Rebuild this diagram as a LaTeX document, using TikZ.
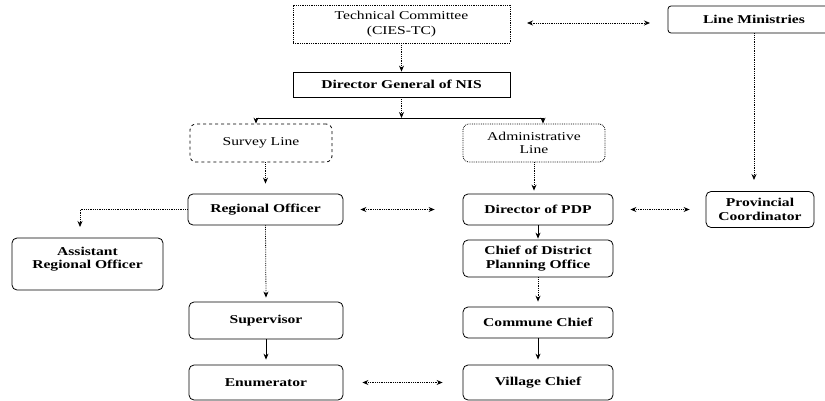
\documentclass[tikz,border=0pt]{standalone}
\usepackage{fontspec}
\setmainfont{Liberation Serif}[FakeStretch=1.3]
\usetikzlibrary{arrows.meta}
\begin{document}
\begin{tikzpicture}[x=1pt,y=-1pt,
  tip/.tip={Stealth[length=6pt,width=5pt]},
  box/.style={draw,line width=0.8pt,rounded corners=5pt,inner sep=0pt,align=center,
    font=\bfseries\fontsize{12}{13.5}\selectfont},
  sqbox/.style={draw,line width=0.8pt,inner sep=0pt,align=center},
  linebox/.style={draw,dashed,line width=0.8pt,rounded corners=6pt,inner sep=0pt,align=center,
    font=\fontsize{12}{13.5}\selectfont},
  conn/.style={densely dotted,line width=0.8pt,-tip},
  connsolid/.style={line width=0.8pt,-tip},
  twoway/.style={densely dotted,line width=0.8pt,tip-tip},
  plain/.style={line width=0.8pt}]
\useasboundingbox (0,0) rectangle (825,401);
\clip (0,0) rectangle (825,401);

% top level
\node[sqbox,densely dotted,minimum width=217pt,minimum height=38pt,
  font=\fontsize{12}{15}\selectfont] (tc) at (401.5,24) {Technical Committee\\(CIES-TC)};
\node[sqbox,minimum width=217pt,minimum height=25pt,
  font=\bfseries\fontsize{12}{13.5}\selectfont] (dg) at (401.5,84.5) {Director General of NIS};
\node[box,rounded corners=3pt,minimum width=172pt,minimum height=27pt] (lm) at (754,19.5) {Line Ministries};

% the two lines
\node[linebox,minimum width=142pt,minimum height=38pt] (sl) at (261,143) {Survey Line};
\node[linebox,densely dotted,minimum width=142pt,minimum height=38pt] (al) at (534,143) {Administrative\\Line};

% survey side
\node[box,minimum width=155pt,minimum height=31pt] (ro) at (265.5,209.5) {Regional Officer};
\node[box,minimum width=151pt,minimum height=52pt] (aro) at (87.5,264) {};
\node[font=\bfseries\fontsize{12}{13.5}\selectfont,align=center,inner sep=0pt] (arot) at (87.5,259) {Assistant\\Regional Officer};
\node[box,minimum width=154pt,minimum height=37pt] (sup) at (266,320.5) {Supervisor};
\node[box,minimum width=154pt,minimum height=35pt] (en) at (266,382.5) {Enumerator};

% administrative side
\node[box,minimum width=150pt,minimum height=31pt] (pdp) at (538,209.5) {Director of PDP};
\node[box,minimum width=108pt,minimum height=36pt] (pc) at (760,209.5) {Provincial\\Coordinator};
\node[box,minimum width=150pt,minimum height=37pt] (cdp) at (538,258.5) {Chief of District\\Planning Office};
\node[box,minimum width=150pt,minimum height=31pt] (cc) at (538,322.5) {Commune Chief};
\node[box,minimum width=150pt,minimum height=35pt] (vc) at (538,382.5) {Village Chief};

% branching below the Director General
\coordinate (jm) at (401.5,118);
\coordinate (jl) at (256,118);
\coordinate (jr) at (543,118);
\coordinate (tcr) at (527,23);
\coordinate (lml) at (650,23);
\coordinate (pcin) at (754,180);
\coordinate (aroin) at (80,227);

\draw[conn] (tc) -- (dg);
\draw[twoway] (tcr) -- (lml);
\draw[conn] (dg.south) -- (jm);
\draw[plain] (jl) -- (jr);
\draw[conn] (jl) -- (jl |- sl.north);
\draw[conn] (jr) -- (jr |- al.north);
\draw[conn] (lm.south) -- (pcin);

\draw[conn] (sl.south -| ro.north) -- ([yshift=10pt]ro.north);
\draw[conn] (ro.west) -| (aroin);
\draw[conn] (ro.south) -- ([yshift=4pt]sup.north);
\draw[connsolid] (sup.south) -- ([yshift=5pt]en.north);

\draw[conn] (al.south) -- ([yshift=3pt]al.south |- pdp.north);
\draw[connsolid] (pdp.south) -- ([yshift=1pt]cdp.north);
\draw[conn] (cdp.south) -- ([yshift=5pt]cc.north);
\draw[connsolid] (cc.south) -- ([yshift=5pt]vc.north);

\draw[twoway] ([xshift=17pt]ro.east) -- ([xshift=-28pt]pdp.west);
\draw[twoway] ([xshift=17pt]pdp.east) -- ([xshift=-16pt]pc.west);
\draw[twoway] ([xshift=19pt]en.east) -- ([xshift=-20pt]vc.west);
\end{tikzpicture}
\end{document}
